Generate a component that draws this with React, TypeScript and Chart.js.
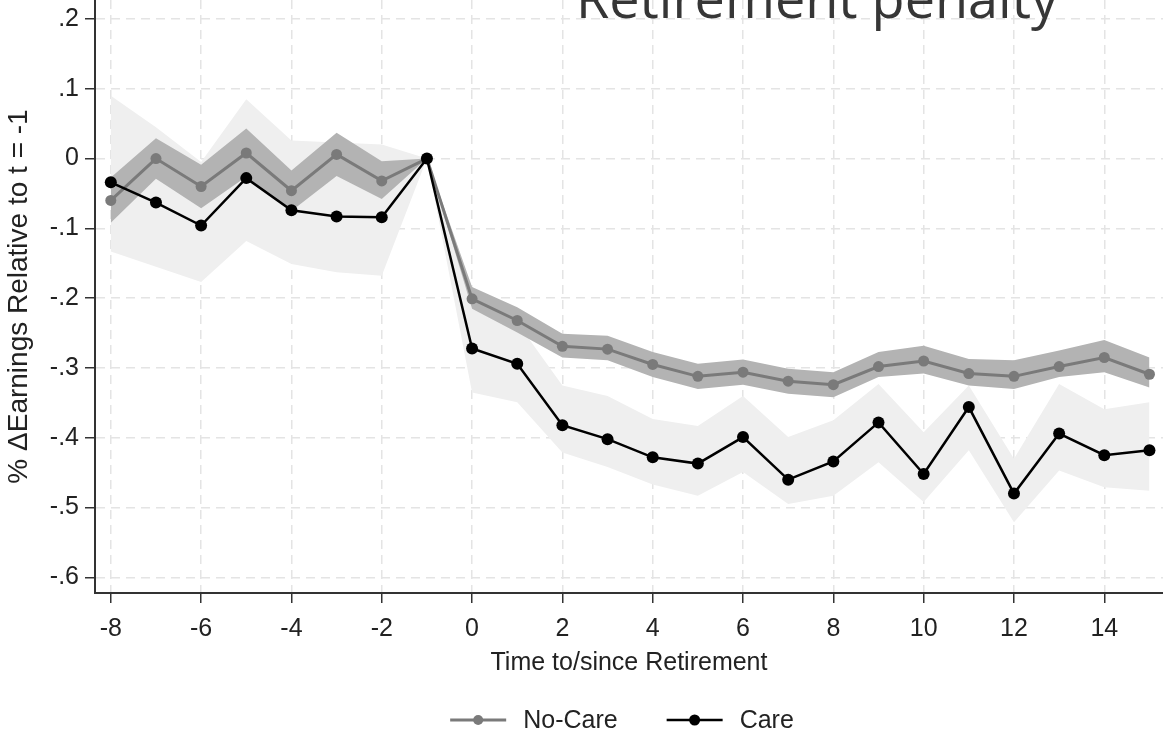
import React, { useEffect, useRef } from "react";
import { Chart, registerables } from "chart.js";

Chart.register(...registerables);

// ---- data ----
const years = [-8, -7, -6, -5, -4, -3, -2, -1, 0, 1, 2, 3, 4, 5, 6, 7, 8, 9, 10, 11, 12, 13, 14, 15];

const noCare = [-0.060, 0.000, -0.040, 0.008, -0.046, 0.006, -0.032, 0, -0.201, -0.232, -0.269, -0.273, -0.295, -0.312, -0.306, -0.319, -0.324, -0.298, -0.290, -0.308, -0.312, -0.298, -0.285, -0.309];
const noCareHi = [-0.027, 0.029, -0.009, 0.043, -0.017, 0.037, -0.004, 0, -0.184, -0.213, -0.251, -0.254, -0.277, -0.294, -0.288, -0.301, -0.306, -0.277, -0.268, -0.287, -0.289, -0.275, -0.260, -0.285];
const noCareLo = [-0.092, -0.029, -0.071, -0.026, -0.075, -0.025, -0.058, 0, -0.215, -0.249, -0.285, -0.289, -0.313, -0.330, -0.324, -0.337, -0.342, -0.313, -0.308, -0.325, -0.330, -0.313, -0.306, -0.328];

const care = [-0.034, -0.063, -0.096, -0.028, -0.074, -0.083, -0.084, 0, -0.272, -0.294, -0.382, -0.402, -0.428, -0.437, -0.399, -0.460, -0.434, -0.378, -0.452, -0.356, -0.480, -0.394, -0.425, -0.418];
const careHi = [0.090, 0.045, -0.005, 0.085, 0.026, 0.023, 0.020, 0, -0.190, -0.235, -0.325, -0.340, -0.373, -0.383, -0.340, -0.399, -0.375, -0.323, -0.392, -0.325, -0.430, -0.323, -0.359, -0.349];
const careLo = [-0.133, -0.155, -0.177, -0.118, -0.151, -0.163, -0.168, 0, -0.335, -0.349, -0.421, -0.442, -0.467, -0.483, -0.449, -0.495, -0.483, -0.435, -0.492, -0.418, -0.521, -0.447, -0.471, -0.476];

const xTicks = [-8, -6, -4, -2, 0, 2, 4, 6, 8, 10, 12, 14];
const yTicks = [-0.6, -0.5, -0.4, -0.3, -0.2, -0.1, 0, 0.1, 0.2];
const yTickLabels = ["-.6", "-.5", "-.4", "-.3", "-.2", "-.1", "0", ".1", ".2"];

const seriesNames = ["No-Care", "Care"];
const chartTitle = "Retirement penalty";
const xTitle = "Time to/since Retirement";
const yTitle = "% \u0394Earnings Relative to t = -1";

const FONT = '"Liberation Sans", Arial, Helvetica, sans-serif';

const pts = (vals: number[]) => vals.map((v, i) => ({ x: years[i], y: v }));

const legendPlugin = {
  id: "stataLegend",
  afterDraw(chart: any) {
    const { ctx, chartArea } = chart;
    const items = chart.data.datasets.filter((d: any) => d.showInLegend);
    ctx.save();
    ctx.font = `25px ${FONT}`;
    const symW = 56, gapT = 17, gapI = 49;
    const widths = items.map((d: any) => symW + gapT + ctx.measureText(d.label).width);
    const total = widths.reduce((a: number, b: number) => a + b, 0) + gapI * (items.length - 1);
    let x = (chartArea.left + chartArea.right) / 2 - total / 2 - 7;
    const y = chart.height - 15;
    items.forEach((d: any, i: number) => {
      ctx.strokeStyle = d.borderColor;
      ctx.lineWidth = d.borderWidth;
      ctx.beginPath();
      ctx.moveTo(x, y);
      ctx.lineTo(x + symW, y);
      ctx.stroke();
      ctx.fillStyle = d.pointBackgroundColor;
      ctx.beginPath();
      ctx.arc(x + symW / 2, y, d.pointRadius - 0.5, 0, Math.PI * 2);
      ctx.fill();
      ctx.fillStyle = "#222";
      ctx.textBaseline = "middle";
      ctx.textAlign = "left";
      ctx.fillText(d.label, x + symW + gapT, y + 1);
      x += widths[i] + gapI;
    });
    ctx.restore();
  },
};

export default function App() {
  const ref = useRef<HTMLCanvasElement | null>(null);

  useEffect(() => {
    document.body.style.margin = "0";
    const canvas = ref.current;
    if (!canvas) return;
    const chart = new Chart(canvas, {
      type: "line",
      data: {
        datasets: [
          {
            label: "careHi",
            data: pts(careHi),
            borderWidth: 0,
            pointRadius: 0,
            backgroundColor: "#efefef",
            fill: "+1",
            order: 5,
          },
          {
            label: "careLo",
            data: pts(careLo),
            borderWidth: 0,
            pointRadius: 0,
            fill: false,
            order: 6,
          },
          {
            label: "noCareHi",
            data: pts(noCareHi),
            borderWidth: 0,
            pointRadius: 0,
            backgroundColor: "#b3b3b3",
            fill: "+1",
            order: 3,
          },
          {
            label: "noCareLo",
            data: pts(noCareLo),
            borderWidth: 0,
            pointRadius: 0,
            fill: false,
            order: 4,
          },
          {
            label: seriesNames[0],
            data: pts(noCare),
            borderColor: "#7a7a7a",
            borderWidth: 3,
            pointRadius: 5.5,
            pointBackgroundColor: "#7a7a7a",
            pointBorderWidth: 0,
            fill: false,
            order: 1,
            showInLegend: true,
          } as any,
          {
            label: seriesNames[1],
            data: pts(care),
            borderColor: "#000000",
            borderWidth: 2.5,
            pointRadius: 6,
            pointBackgroundColor: "#000000",
            pointBorderWidth: 0,
            fill: false,
            order: 0,
            showInLegend: true,
          } as any,
        ],
      },
      options: {
        animation: false,
        responsive: false,
        devicePixelRatio: 1,
        layout: { autoPadding: false, padding: { top: 0, left: 0, right: 0, bottom: 59 } },
        plugins: {
          legend: { display: false },
          tooltip: { enabled: false },
          title: { display: false },
        },
        scales: {
          x: {
            type: "linear",
            min: -8.35,
            max: 15.3,
            afterBuildTicks: (scale: any) => {
              scale.ticks = xTicks.map((v) => ({ value: v }));
            },
            afterFit: (scale: any) => {
              scale.height = 83;
              scale.paddingLeft = 0;
              scale.paddingRight = 0;
            },
            ticks: {
              callback: (v: any) => String(v),
              font: { family: FONT, size: 25 },
              color: "#222",
              padding: 11,
              maxRotation: 0,
            },
            grid: {
              color: "#e4e4e4",
              lineWidth: 1.5,
              tickLength: 10,
              tickColor: "#333",
              tickWidth: 1.5,
              tickBorderDash: [],
            },
            border: { color: "#333", width: 2, dash: [9, 6] },
            title: {
              display: true,
              text: xTitle,
              font: { family: FONT, size: 25, lineHeight: 1 },
              color: "#222",
              padding: { top: -4, bottom: 0 },
            },
          },
          y: {
            type: "linear",
            min: -0.6224,
            max: 0.2272,
            afterBuildTicks: (scale: any) => {
              scale.ticks = yTicks.map((v) => ({ value: v }));
            },
            afterFit: (scale: any) => {
              scale.width = 95;
              scale.paddingTop = 0;
              scale.paddingBottom = 0;
            },
            ticks: {
              callback: (v: any) => {
                const i = yTicks.findIndex((t) => Math.abs(t - v) < 1e-6);
                return i >= 0 ? yTickLabels[i] : "";
              },
              font: { family: FONT, size: 25 },
              color: "#222",
              padding: 6,
            },
            grid: {
              color: "#e4e4e4",
              lineWidth: 1.5,
              tickLength: 10,
              tickColor: "#333",
              tickWidth: 1.5,
              tickBorderDash: [],
            },
            border: { color: "#333", width: 2, dash: [9, 6] },
            title: {
              display: true,
              text: yTitle,
              font: { family: FONT, size: 28, lineHeight: 1.2 },
              color: "#222",
              padding: { top: 2, bottom: 6 },
            },
          },
        },
      },
      plugins: [legendPlugin],
    } as any);
    return () => chart.destroy();
  }, []);

  return (
    <div style={{ position: "fixed", left: 0, top: 0, width: 1163, height: 735, background: "#fff", overflow: "hidden" }}>
      <canvas ref={ref} width={1163} height={735} style={{ position: "absolute", left: 0, top: 0, width: 1163, height: 735 }} />
      <div
        style={{
          position: "absolute",
          left: 417,
          top: -30,
          width: 800,
          textAlign: "center",
          fontFamily: '"Open Sans", sans-serif',
          fontSize: 54,
          fontWeight: 500,
          lineHeight: "54px",
          color: "#363636",
          whiteSpace: "nowrap",
          pointerEvents: "none",
        }}
      >
        {chartTitle}
      </div>
    </div>
  );
}
